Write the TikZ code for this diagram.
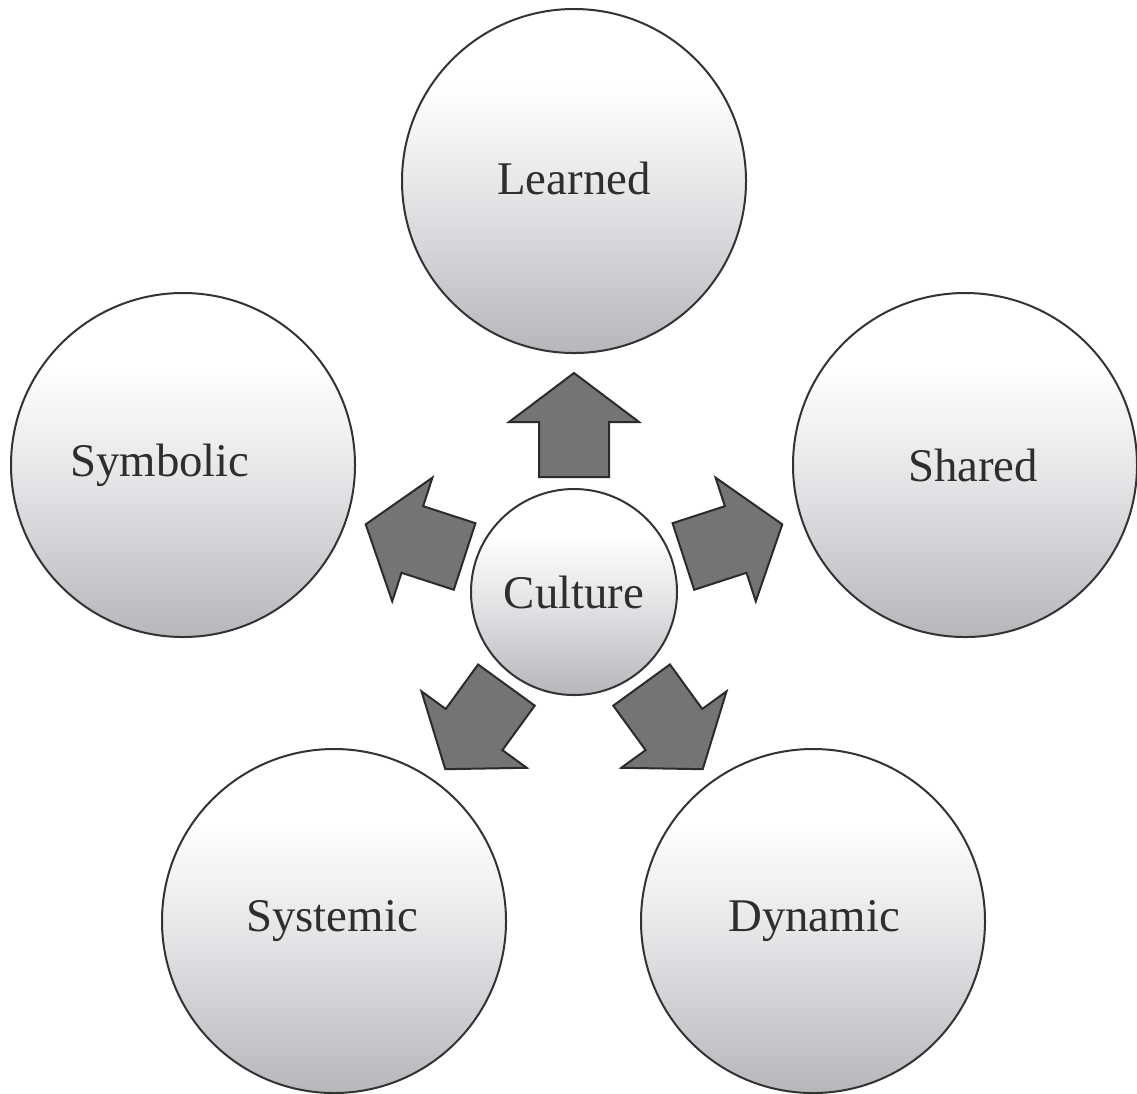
\documentclass[tikz,border=0pt]{standalone}
\usepackage{fontspec}
\setmainfont{Liberation Serif}
\definecolor{sbot}{HTML}{B6B7BB}
\definecolor{smid}{HTML}{E4E5E7}
\definecolor{arrfill}{HTML}{747474}
\definecolor{arrline}{HTML}{2B2B2B}
\definecolor{txt}{HTML}{2E2E2E}
\definecolor{cline}{HTML}{333333}
\pgfdeclareverticalshading{discshade}{100bp}{color(0bp)=(sbot); color(25bp)=(sbot); color(48bp)=(smid); color(64bp)=(white); color(100bp)=(white)}
\begin{document}
\begin{tikzpicture}[x=0.5bp,y=-0.5bp,
  bigc/.style={circle, draw=cline, line width=1bp, shading=discshade, minimum size=172bp, inner sep=0pt, outer sep=0pt},
  cult/.style={bigc, minimum size=103bp},
  lbl/.style={font=\fontsize{23.5}{28}\selectfont, text=txt, inner sep=0pt},
  blockarrow/.pic={\draw[fill=arrfill, draw=arrline, line width=1bp, line join=miter] (115,-35) -- (170,-35) -- (170,-65) -- (219,0) -- (170,65) -- (170,35) -- (115,35) -- cycle;}
]
\useasboundingbox (0,0) rectangle (1137,1093);
% circles
\node[bigc] (learned) at (574,181) {};
\node[bigc] (shared) at (965,465) {};
\node[bigc] (symbolic) at (183,465) {};
\node[bigc] (systemic) at (334,921) {};
\node[bigc] (dynamic) at (813,921) {};
\node[cult] (culture) at (574,592) {};
% block arrows
\pic[rotate=90] at (culture.center) {blockarrow};
\pic[rotate=18] at (culture.center) {blockarrow};
\pic[rotate=162] at (culture.center) {blockarrow};
\pic[rotate=-54] at (culture.center) {blockarrow};
\pic[rotate=-126] at (culture.center) {blockarrow};
% labels
\node[lbl] (tlearned) at ([yshift=1.5bp]learned.center) {Learned};
\node[lbl] (tshared) at ([xshift=4bp]shared.center) {Shared};
\node[lbl] (tsymbolic) at ([xshift=-11.5bp]symbolic.center) {Symbolic};
\node[lbl] (tsystemic) at ([xshift=-1bp]systemic.center) {Systemic};
\node[lbl] (tdynamic) at ([xshift=0.5bp]dynamic.center) {Dynamic};
\node[lbl] (tculture) at (culture.center) {Culture};
\end{tikzpicture}
\end{document}
